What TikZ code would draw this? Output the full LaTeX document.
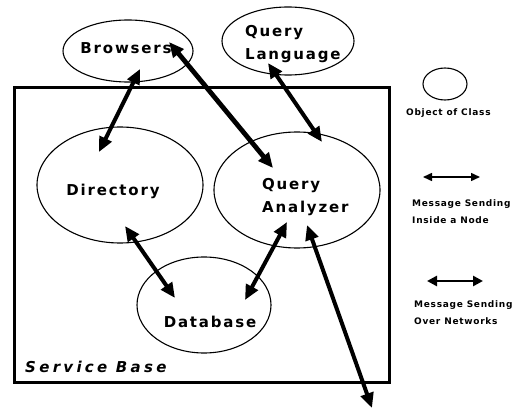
\documentclass[tikz,border=0pt]{standalone}
\usepackage{fontspec}
\setmainfont{DejaVu Sans}[BoldFont={DejaVu Sans Bold},BoldItalicFont={DejaVu Sans Bold Oblique}]
\newfontfamily\lblfont{DejaVu Sans Bold}[LetterSpace=12]
\newfontfamily\lblitfont{DejaVu Sans Bold Oblique}[LetterSpace=22]
\newfontfamily\smallfont{DejaVu Sans Bold}[LetterSpace=8]
\usetikzlibrary{arrows.meta,shapes.geometric}
\tikzset{
  obj/.style={draw,ellipse,line width=1.1pt,inner sep=0pt},
  lbl/.style={font=\lblfont\fontsize{15}{23}\selectfont,inner sep=0pt,align=left},
  leg/.style={font=\smallfont\fontsize{9}{17}\selectfont,inner sep=0pt,anchor=west,align=left},
  msg/.style={line width=4pt,{Triangle[length=15pt,width=13pt]}-{Triangle[length=15pt,width=13pt]}},
  msgthin/.style={line width=1.5pt,{Triangle[length=9pt,width=8pt]}-{Triangle[length=9pt,width=8pt]}},
  msgleg/.style={line width=2.8pt,{Triangle[length=10pt,width=10pt]}-{Triangle[length=10pt,width=10pt]}}
}
\begin{document}
\begin{tikzpicture}[x=1pt,y=-1pt]
\useasboundingbox (0,0) rectangle (522,414);
% service base
\node[draw,line width=2.8pt,minimum width=375pt,minimum height=295pt,inner sep=0pt] (base) at (202,235) {};
\node[font=\lblitfont\fontsize{15}{18}\selectfont,inner sep=0pt,anchor=west] (basel) at (25,367) {Service Base};
% objects
\node[obj,minimum width=130pt,minimum height=62pt] (browsers) at (128,51) {};
\node[obj,minimum width=132pt,minimum height=68pt] (qlang) at (288,41) {};
\node[obj,minimum width=166pt,minimum height=116pt] (dir) at (120,185) {};
\node[obj,minimum width=166pt,minimum height=116pt] (qa) at (297,190) {};
\node[obj,minimum width=134pt,minimum height=96pt] (db) at (204,305) {};
% labels
\node[lbl] (browsersl) at (126,48) {Browsers};
\node[lbl,anchor=west] (qlangl) at (245,44) {Query\\Language};
\node[lbl] (dirl) at (113,191) {Directory};
\node[lbl,anchor=west] (qal) at (262,197) {Query\\Analyzer};
\node[lbl] (dbl) at (210,322) {Database};
% arrow end points
\coordinate (b1) at ([shift={(12,18)}]browsers.center);
\coordinate (d1) at ([shift={(-21,-33)}]dir.center);
\coordinate (b2) at ([shift={(41,-9)}]browsers.center);
\coordinate (q1) at ([shift={(-24,-22)}]qa.center);
\coordinate (l1) at ([shift={(-20,22)}]qlang.center);
\coordinate (q2) at ([shift={(25,-48)}]qa.center);
\coordinate (d2) at ([shift={(5,41)}]dir.center);
\coordinate (db1) at ([shift={(-29,-7)}]db.center);
\coordinate (db2) at ([shift={(41,-5)}]db.center);
\coordinate (q3) at ([shift={(-10,32)}]qa.center);
\coordinate (q4) at ([shift={(10,35)}]qa.center);
\coordinate (net) at (372,408);
\draw[msg] (b1) -- (d1);
\draw[msg,line width=4.8pt] (b2) -- (q1);
\draw[msg] (l1) -- (q2);
\draw[msg] (d2) -- (db1);
\draw[msg] (db2) -- (q3);
\draw[msg] (q4) -- (net);
% legend
\node[obj,minimum width=44pt,minimum height=32pt] (legobj) at (445,84) {};
\node[leg] (legobjl) at (406,113) {Object of Class};
\coordinate (t1) at (423,177);
\coordinate (t2) at (480,177);
\draw[msgthin] (t1) -- (t2);
\node[leg] (legin) at (412,212) {Message Sending\\Inside a Node};
\coordinate (n1) at (427,281);
\coordinate (n2) at (483,281);
\draw[msgleg] (n1) -- (n2);
\node[leg] (legnet) at (414,313) {Message Sending\\Over Networks};
\end{tikzpicture}
\end{document}
